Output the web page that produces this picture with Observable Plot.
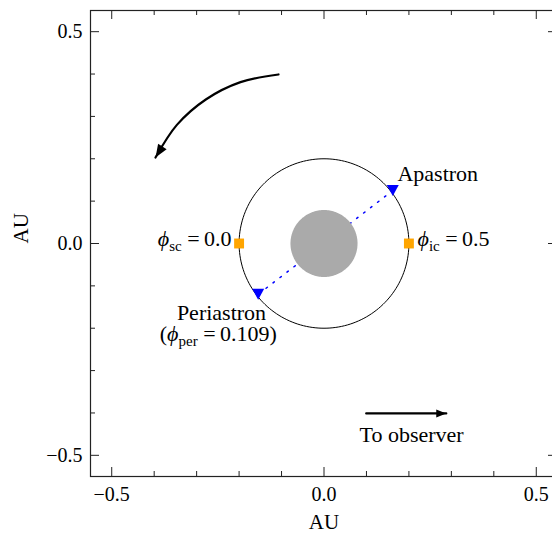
<!DOCTYPE html>
<html><head><meta charset="utf-8">
<script src="https://cdn.jsdelivr.net/npm/d3@7"></script>
<script src="https://cdn.jsdelivr.net/npm/@observablehq/plot@0.6"></script>
<style>
body{margin:0;background:#fff;overflow:hidden}
#chart svg{font-family:"Liberation Serif","Times New Roman",serif}
</style>
</head><body><div id="chart"></div>
<script>
// ---- data (AU) ----
const orbitRadius = 0.2;
const starRadius = 0.079;
const conjunctions = [{x: -0.2, y: 0}, {x: 0.2, y: 0}];
const apsides = [{name: "Apastron", x: 0.162, y: 0.125}, {name: "Periastron", x: -0.155, y: -0.120}];
const labels = [
  {text: "Apastron", x: 0.173, y: 0.165, anchor: "start"},
  {text: "Periastron", x: -0.2415, y: -0.163, anchor: "middle"},
  {text: "(ϕ_{per} =\u20090.109)", x: -0.249, y: -0.214, anchor: "middle"},
  {text: "To observer", x: 0.0836, y: -0.451, anchor: "start"},
  {text: "ϕ_{sc} =\u20090.0", x: -0.218, y: 0.01, anchor: "end"},
  {text: "ϕ_{ic} =\u20090.5", x: 0.2203, y: 0.01, anchor: "start"}
];
const observerArrow = [{x: 0.0994, y: -0.401}, {x: 0.288, y: -0.401}];
const orbitArrow = [
  {x: -0.1072, y: 0.399}, {x: -0.1967, y: 0.381}, {x: -0.2784, y: 0.340},
  {x: -0.3465, y: 0.280}, {x: -0.3969, y: 0.203}
];
const majorTicks = [-0.5, 0, 0.5];
const minorTicks = [-0.4, -0.3, -0.2, -0.1, 0.1, 0.2, 0.3, 0.4];
const axisLabel = "AU";

// ---- geometry helpers ----
const circle = (r) => d3.range(0, 361, 2).map(a => ({x: r * Math.cos(a * Math.PI / 180), y: r * Math.sin(a * Math.PI / 180)}));
const headSymbol = (angle, len, wid) => ({
  draw(ctx) {
    const t = angle * Math.PI / 180, c = Math.cos(t), s = Math.sin(t);
    const pts = [[0, 0], [-len, -wid / 2], [-len, wid / 2]].map(([px, py]) => [px * c - py * s, px * s + py * c]);
    ctx.moveTo(...pts[0]); ctx.lineTo(...pts[1]); ctx.lineTo(...pts[2]); ctx.closePath();
  }
});
const downTriangle = {
  draw(ctx) { ctx.moveTo(-6, -5.5); ctx.lineTo(6, -5.5); ctx.lineTo(0, 5.5); ctx.closePath(); }
};
const fmt = d => d.toFixed(1).replace("-", "\u2212");

const W = 552, H = 533, mT = 10, mB = 57, mL = 90, mR = -5;
const fh = H - mT - mB, fw = W - mL - mR;

const textMarks = ["start", "middle", "end"].map(a =>
  Plot.text(labels.filter(d => d.anchor === a), {x: "x", y: "y", text: "text", textAnchor: a, fontSize: 22, fill: "black"})
);

const plot = Plot.plot({
  width: W, height: H,
  marginTop: mT, marginBottom: mB, marginLeft: mL, marginRight: mR,
  style: {fontSize: "20px", fontFamily: "Liberation Serif, serif", background: "white", overflow: "hidden"},
  x: {domain: [-0.55, 0.55], ticks: majorTicks, tickSize: 0, tickPadding: 10, tickFormat: fmt, label: null},
  y: {domain: [-0.55, 0.55], ticks: majorTicks, tickSize: 0, tickPadding: 8, tickFormat: fmt, label: null},
  marks: [
    // inward ticks
    Plot.ruleX(majorTicks, {x: d => d, insetTop: fh - 9, stroke: "#222"}),
    Plot.ruleX(majorTicks, {x: d => d, insetBottom: fh - 9, stroke: "#222"}),
    Plot.ruleX(minorTicks, {x: d => d, insetTop: fh - 5, stroke: "#222"}),
    Plot.ruleX(minorTicks, {x: d => d, insetBottom: fh - 5, stroke: "#222"}),
    Plot.ruleY(majorTicks, {y: d => d, insetRight: fw - 9, stroke: "#222"}),
    Plot.ruleY(majorTicks, {y: d => d, insetLeft: fw - 9, stroke: "#222"}),
    Plot.ruleY(minorTicks, {y: d => d, insetRight: fw - 5, stroke: "#222"}),
    Plot.ruleY(minorTicks, {y: d => d, insetLeft: fw - 5, stroke: "#222"}),
    // line of apsides
    Plot.line(apsides, {x: "x", y: "y", stroke: "blue", strokeWidth: 1.5, strokeDasharray: "1.6,7.2"}),
    // orbit
    Plot.line(circle(orbitRadius), {x: "x", y: "y", stroke: "black", strokeWidth: 1}),
    // star
    Plot.line(circle(starRadius), {x: "x", y: "y", fill: "#aaaaaa", stroke: "none"}),
    // conjunction points
    Plot.dot(conjunctions, {x: "x", y: "y", symbol: "square", r: 5.6, fill: "orange", stroke: "none"}),
    // apsides
    Plot.dot(apsides, {x: "x", y: "y", symbol: downTriangle, fill: "blue", stroke: "none"}),
    // arrows
    Plot.line(observerArrow, {x: "x", y: "y", stroke: "black", strokeWidth: 2.2}),
    Plot.dot(observerArrow.slice(-1), {x: "x", y: "y", symbol: headSymbol(0, 10, 8), fill: "black", stroke: "none"}),
    Plot.line(orbitArrow, {x: "x", y: "y", stroke: "black", strokeWidth: 2.2, curve: "catmull-rom"}),
    Plot.dot(orbitArrow.slice(-1), {x: "x", y: "y", symbol: headSymbol(122, 13, 10), fill: "black", stroke: "none"}),
    // annotations
    ...textMarks,
    // axis labels
    Plot.text([axisLabel], {frameAnchor: "bottom", dy: 52, fontSize: 21, fill: "black"}),
    Plot.text([axisLabel], {frameAnchor: "left", dx: -69, rotate: -90, fontSize: 21, fill: "black"}),
    Plot.frame({stroke: "#222", strokeWidth: 1.2})
  ]
});
document.getElementById("chart").appendChild(plot);

// render math-like subscripts as tspans
d3.select(plot).selectAll("text").each(function() {
  const el = this;
  const s = el.textContent;
  const m = s.match(/^(.*?)ϕ_\{(.*?)\}(.*)$/);
  if (!m) return;
  while (el.firstChild) el.removeChild(el.firstChild);
  const sel = d3.select(el);
  if (m[1]) sel.append("tspan").text(m[1]);
  sel.append("tspan").attr("font-style", "italic").text("ϕ");
  sel.append("tspan").attr("font-size", "15px").attr("dy", "5").text(m[2]);
  sel.append("tspan").attr("dy", "-5").text(m[3]);
});
</script>
</body></html>
